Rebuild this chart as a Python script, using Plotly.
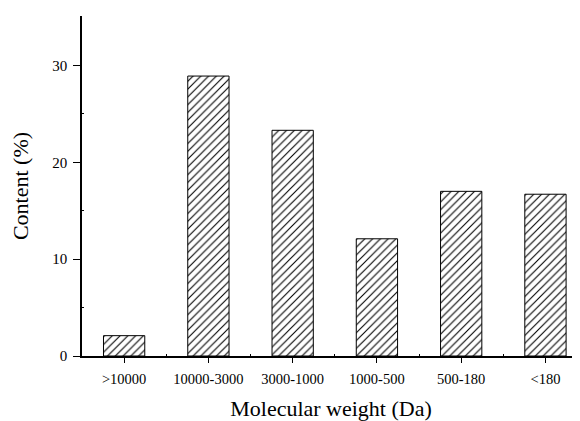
import plotly.graph_objects as go

categories = [">10000", "10000-3000", "3000-1000", "1000-500", "500-180", "<180"]
content = [2.1, 28.9, 23.3, 12.1, 17.0, 16.7]
positions = list(range(len(categories)))

fig = go.Figure()
fig.add_trace(go.Bar(
    x=positions, y=content, width=0.49,
    marker=dict(color="white", line=dict(color="black", width=1),
                pattern=dict(shape="/", fgcolor="black", bgcolor="white", size=5.5,
                             solidity=0.2, fgopacity=1)),
    showlegend=False,
))

font = "Liberation Serif, Times New Roman, serif"
fig.update_layout(
    width=572, height=413,
    margin=dict(l=74, r=0, t=8, b=63),
    plot_bgcolor="white", paper_bgcolor="white",
    font=dict(family=font, size=14, color="black"),
)
fig.update_xaxes(
    range=[-0.5, 5.41], tickvals=positions, ticktext=categories,
    showline=True, linecolor="black", linewidth=1.5, showgrid=False, zeroline=False,
    ticks="outside", ticklen=5, tickwidth=1, tickcolor="black",
    tickfont=dict(size=14.5), ticklabelstandoff=4,
    minor=dict(tickvals=[p + 0.5 for p in positions], ticks="inside", ticklen=2, tickcolor="black"),
    title=dict(text="Molecular weight (Da)", font=dict(size=22), standoff=18),
)
fig.update_yaxes(
    range=[0, 35.1], tickvals=[0, 10, 20, 30],
    showline=True, linecolor="black", linewidth=1.5, showgrid=False, zeroline=False,
    ticks="outside", ticklen=7, tickwidth=1, tickcolor="black",
    tickfont=dict(size=15), ticklabelstandoff=3,
    minor=dict(tickvals=[5, 15, 25], ticks="inside", ticklen=2, tickcolor="black"),
    title=dict(text="Content (%)", font=dict(size=22), standoff=19),
)

fig.write_html("out.html")
